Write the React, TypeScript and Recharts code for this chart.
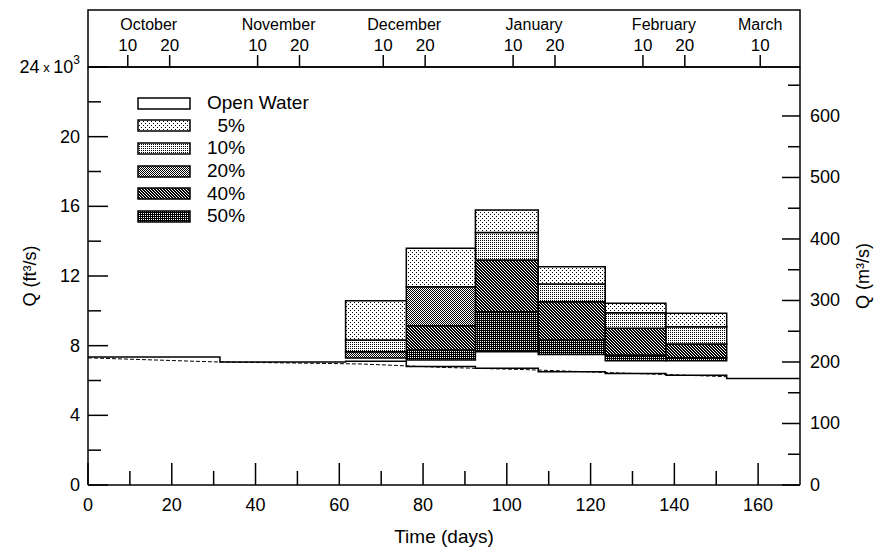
import React from "react";
import {
  ComposedChart,
  Line,
  XAxis,
  YAxis,
  ReferenceArea,
  Legend,
  Label,
} from "recharts";

// days since 30 Sep
const bottomTicks = [0, 10, 20, 30, 40, 50, 60, 70, 80, 90, 100, 110, 120, 130, 140, 150, 160];
const leftTicks = [0, 2, 4, 6, 8, 10, 12, 14, 16, 18, 20, 22, 24];
const rightTicks = [0, 50, 100, 150, 200, 250, 300, 350, 400, 450, 500, 550, 600, 650];

const dayTicks = [9.5, 19.5, 40.5, 50.5, 70.5, 80.5, 101.5, 111.5, 132.5, 142.5, 160.5];
const dayTickLabels = ["10", "20", "10", "20", "10", "20", "10", "20", "10", "20", "10"];
const monthNames = ["October", "November", "December", "January", "February", "March"];
const monthCenters = [14.5, 45.5, 75.5, 106.5, 137.5, 160.5];

// half-month ice periods
const periodStart = [61.5, 76, 92.5, 107.5, 123.5, 138];
const periodEnd = [76, 92.5, 107.5, 123.5, 138, 152.5];
const barBase = [7.29, 7.18, 7.65, 7.5, 7.14, 7.14];
const q50 = [7.29, 7.75, 9.95, 8.32, 7.46, 7.3];
const q40 = [7.29, 9.15, 12.92, 10.52, 9.0, 8.09];
const q20 = [7.65, 11.38, 12.92, 10.52, 9.0, 8.09];
const q10 = [8.32, 11.38, 14.5, 11.54, 9.89, 9.09];
const q5 = [10.58, 13.59, 15.79, 12.53, 10.43, 9.86];

// open water discharge (step) and trend
const openDay = [0, 31.5, 61.5, 76, 92.5, 107.5, 123.5, 138, 152.5, 170];
const openQ = [7.35, 7.06, 7.1, 6.8, 6.7, 6.5, 6.4, 6.3, 6.12, 6.12];
const trendDay = [0, 30, 65, 85, 105, 125, 152.5];
const trendQ = [7.3, 7.07, 6.95, 6.75, 6.62, 6.45, 6.22];

const FT3_PER_M3 = 35.3147;
const FONT = "'Liberation Sans', Arial, Helvetica, sans-serif";

const openData = openDay.map((d, i) => ({ day: d, q: openQ[i] }));
const trendData = trendDay.map((d, i) => ({ day: d, q: trendQ[i] }));
const topTicks = [...dayTicks, ...monthCenters.filter((m) => !dayTicks.includes(m))].sort((a, b) => a - b);

const patterns = [
  { id: "p5", label: "5%", tile: 4, px: [[0, 0], [2, 2]] },
  { id: "p10", label: "10%", tile: 2, px: [[0, 0]] },
  { id: "p20", label: "20%", tile: 2, px: [[0, 0], [1, 1]] },
  { id: "p40", label: "40%", tile: 3, px: [[0, 0], [1, 0], [1, 1], [2, 1], [2, 2], [0, 2]] },
  { id: "p50", label: "50%", tile: 2, px: [[0, 0], [1, 0], [1, 1]] },
];

const layers = [
  { id: "p50", lower: barBase, upper: q50 },
  { id: "p40", lower: q50, upper: q40 },
  { id: "p20", lower: q40, upper: q20 },
  { id: "p10", lower: q20, upper: q10 },
  { id: "p5", lower: q10, upper: q5 },
];

const Patterns = () => (
  <svg width={0} height={0} style={{ position: "absolute" }}>
    <defs>
      {patterns.map((p) => (
        <pattern key={p.id} id={p.id} width={p.tile} height={p.tile} patternUnits="userSpaceOnUse">
          <rect width={p.tile} height={p.tile} fill="#fff" />
          {p.px.map(([x, y], i) => (
            <rect key={i} x={x} y={y} width={1} height={1} fill="#000" />
          ))}
        </pattern>
      ))}
    </defs>
  </svg>
);

const LeftTick = (props: any) => {
  const { x, y, payload } = props;
  const v = payload.value;
  const major = v % 4 === 0;
  return (
    <g>
      <line x1={x + 8} x2={x + 8 + (major ? 20 : 13)} y1={y} y2={y} stroke="#000" strokeWidth={1.5} />
      {major &&
        (v === 24 ? (
          <text x={x} y={y} textAnchor="end" dominantBaseline="central" fontSize={18} fontFamily={FONT}>
            24<tspan fontSize={13}> x </tspan>10<tspan fontSize={12} dy={-7}>3</tspan>
          </text>
        ) : (
          <text x={x} y={y} textAnchor="end" dominantBaseline="central" fontSize={18} fontFamily={FONT}>
            {v}
          </text>
        ))}
    </g>
  );
};

const RightTick = (props: any) => {
  const { x, y, payload } = props;
  const v = payload.value;
  const major = v % 100 === 0;
  return (
    <g>
      <line x1={x - 10} x2={x - 10 - (major ? 18 : 12)} y1={y} y2={y} stroke="#000" strokeWidth={1.5} />
      {major && (
        <text x={x} y={y} textAnchor="start" dominantBaseline="central" fontSize={18} fontFamily={FONT}>
          {v}
        </text>
      )}
    </g>
  );
};

const BottomTick = (props: any) => {
  const { x, y, payload } = props;
  const v = payload.value;
  const major = v % 20 === 0;
  return (
    <g>
      <line x1={x} x2={x} y1={y - 12} y2={y - 12 - (major ? 22 : 14)} stroke="#000" strokeWidth={1.5} />
      {major && (
        <text x={x} y={y} dy="0.75em" textAnchor="middle" fontSize={18} fontFamily={FONT}>
          {v}
        </text>
      )}
    </g>
  );
};

const TopTick = (props: any) => {
  const { x, y, payload } = props;
  const v = payload.value;
  const di = dayTicks.indexOf(v);
  const mi = monthCenters.indexOf(v);
  return (
    <g>
      {di >= 0 && (
        <g>
          <line x1={x} x2={x} y1={y} y2={y - 12} stroke="#000" strokeWidth={1.5} />
          <text x={x} y={y - 16} textAnchor="middle" fontSize={17} fontFamily={FONT}>
            {dayTickLabels[di]}
          </text>
        </g>
      )}
      {mi >= 0 && (
        <text x={x} y={y - 37} textAnchor="middle" fontSize={16} fontFamily={FONT}>
          {monthNames[mi]}
        </text>
      )}
    </g>
  );
};

const TopBox = (props: any) => {
  const { x, y, width, height } = props.viewBox;
  return <rect x={x} y={y} width={width} height={height} fill="none" stroke="#000" strokeWidth={1.5} />;
};

const sideTitle = (text: string, dx: number) => (props: any) => {
  const { x, y, height } = props.viewBox;
  const cx = x + dx;
  const cy = y + height / 2;
  return (
    <text
      x={cx}
      y={cy}
      transform={`rotate(-90 ${cx} ${cy})`}
      textAnchor="middle"
      dominantBaseline="central"
      fontSize={18}
      fontFamily={FONT}
    >
      {text}
    </text>
  );
};

const BottomTitle = (props: any) => {
  const { x, y, width, height } = props.viewBox;
  return (
    <text x={x + width / 2} y={y + height - 7} textAnchor="middle" fontSize={19} fontFamily={FONT}>
      Time (days)
    </text>
  );
};

const Swatch = ({ fill }: { fill: string }) => (
  <svg width={55} height={13} style={{ display: "block" }}>
    <rect x={1} y={1} width={52} height={11} fill={fill} stroke="#000" strokeWidth={1.5} />
  </svg>
);

const LegendBox = () => {
  const rows = [{ id: "open", label: "Open Water", fill: "#fff" }, ...patterns.map((p) => ({ id: p.id, label: p.label, fill: `url(#${p.id})` }))];
  return (
    <div style={{ fontFamily: FONT, fontSize: 19, color: "#000" }}>
      {rows.map((r) => (
        <div key={r.id} style={{ display: "flex", alignItems: "center", height: 22.6 }}>
          <Swatch fill={r.fill} />
          <span style={{ marginLeft: 15, display: "inline-block", width: r.id === "open" ? "auto" : 38, textAlign: r.id === "open" ? "left" : "right" }}>
            {r.label}
          </span>
        </div>
      ))}
    </div>
  );
};

export default function App() {
  return (
    <div style={{ position: "absolute", left: 0, top: 0, width: 878, height: 550, background: "#fff" }}>
      <Patterns />
      <ComposedChart width={878} height={550} margin={{ top: 10, right: 8, bottom: 0, left: 8 }} style={{ fontFamily: FONT }}>
        <XAxis
          xAxisId="bottom"
          dataKey="day"
          type="number"
          domain={[0, 170]}
          allowDataOverflow
          ticks={bottomTicks}
          interval={0}
          height={65}
          tickSize={0}
          tickMargin={12}
          tickLine={false}
          tick={BottomTick}
          axisLine={{ stroke: "#000", strokeWidth: 1.5 }}
        >
          <Label content={BottomTitle} />
        </XAxis>
        <XAxis
          xAxisId="top"
          orientation="top"
          dataKey="day"
          type="number"
          domain={[0, 170]}
          allowDataOverflow
          ticks={topTicks}
          interval={0}
          height={57}
          tickSize={0}
          tickMargin={0}
          tickLine={false}
          tick={TopTick}
          axisLine={{ stroke: "#000", strokeWidth: 1.5 }}
        >
          <Label content={TopBox} />
        </XAxis>
        <YAxis
          yAxisId="left"
          type="number"
          domain={[0, 24]}
          allowDataOverflow
          ticks={leftTicks}
          interval={0}
          width={80}
          tickSize={0}
          tickMargin={8}
          tickLine={false}
          tick={LeftTick}
          axisLine={{ stroke: "#000", strokeWidth: 1.5 }}
        >
          <Label content={sideTitle("Q (ft³/s)", 22)} />
        </YAxis>
        <YAxis
          yAxisId="right"
          orientation="right"
          type="number"
          domain={[0, 24000 / FT3_PER_M3]}
          allowDataOverflow
          ticks={rightTicks}
          interval={0}
          width={70}
          tickSize={0}
          tickMargin={10}
          tickLine={false}
          tick={RightTick}
          axisLine={{ stroke: "#000", strokeWidth: 1.5 }}
        >
          <Label content={sideTitle("Q (m³/s)", 63)} />
        </YAxis>
        <Line
          xAxisId="top"
          yAxisId="left"
          data={trendData}
          dataKey="q"
          type="linear"
          stroke="#000"
          strokeWidth={1}
          strokeDasharray="4 2"
          dot={false}
          legendType="none"
          isAnimationActive={false}
        />
        <Line
          xAxisId="bottom"
          yAxisId="left"
          data={openData}
          dataKey="q"
          type="stepAfter"
          stroke="#000"
          strokeWidth={1.5}
          dot={false}
          legendType="none"
          isAnimationActive={false}
        />
        {layers.map((layer) =>
          periodStart.map((s, i) =>
            layer.upper[i] > layer.lower[i] ? (
              <ReferenceArea
                key={`${layer.id}-${i}`}
                xAxisId="bottom"
                yAxisId="left"
                x1={s}
                x2={periodEnd[i]}
                y1={layer.lower[i]}
                y2={layer.upper[i]}
                fill={`url(#${layer.id})`}
                fillOpacity={1}
                stroke="#000"
                strokeWidth={1.5}
              />
            ) : null
          )
        )}
        <Legend
          layout="vertical"
          align="center"
          verticalAlign="middle"
          wrapperStyle={{ left: 137, top: 92, width: "auto" }}
          content={LegendBox}
        />
      </ComposedChart>
    </div>
  );
}
